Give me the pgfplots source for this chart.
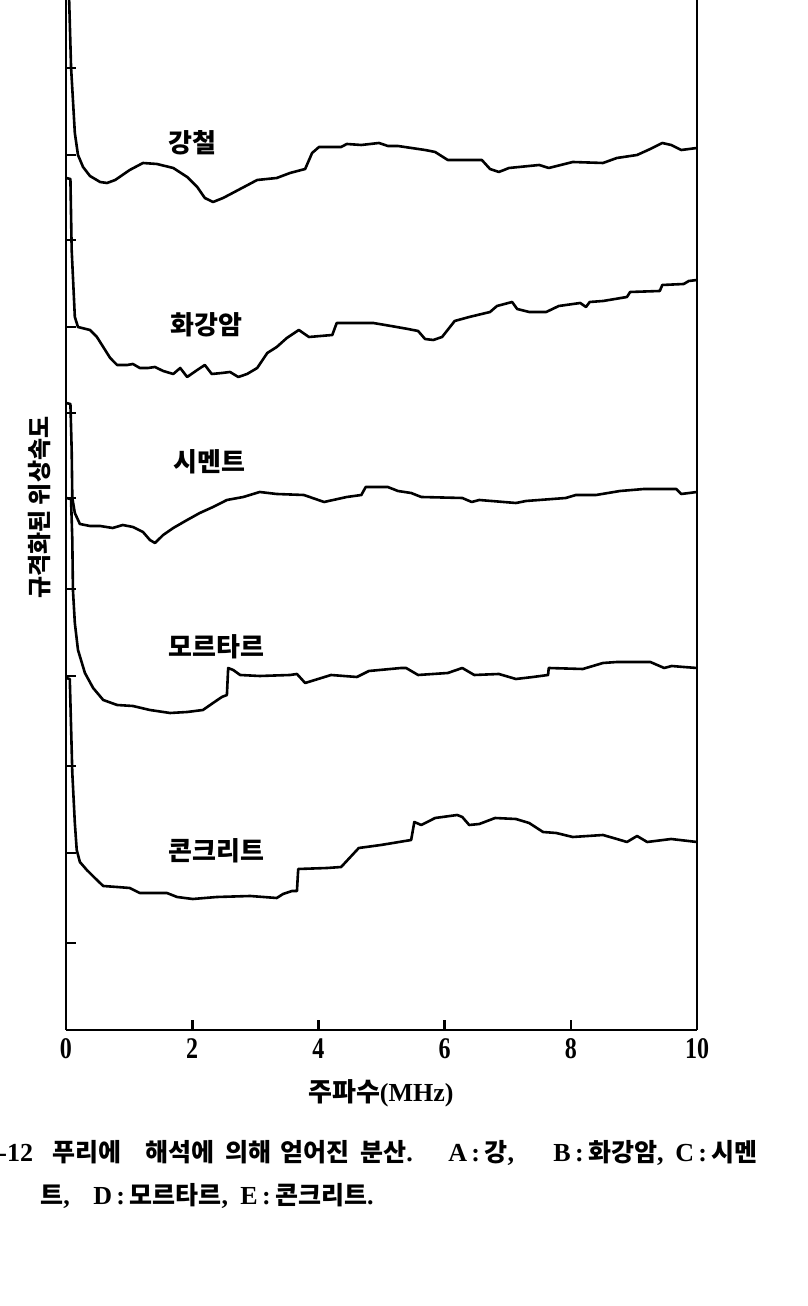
\documentclass[border=0pt]{standalone}
\usepackage{pgfplots}
\pgfplotsset{compat=1.18}
\usepackage{fontspec}
\setmainfont{Liberation Serif}
\newfontfamily\kr{Noto Sans CJK KR}
\begin{document}
\begin{tikzpicture}
\useasboundingbox (0,0) rectangle (404pt,653pt);
\clip (0,0) rectangle (404pt,653pt);
\begin{axis}[
  at={(33pt,138pt)}, anchor=south west, scale only axis,
  width=315.5pt, height=515pt,
  xmin=0, xmax=10, ymin=0, ymax=1030,
  axis x line*=bottom, axis y line*=box,
  axis line style={line width=1.4pt},
  xtick={0,2,4,6,8,10},
  xticklabels={\scalebox{0.8}[1]{0},\scalebox{0.8}[1]{2},\scalebox{0.8}[1]{4},\scalebox{0.8}[1]{6},\scalebox{0.8}[1]{8},\scalebox{0.8}[1]{10}},
  xticklabel style={font=\fontsize{15}{15}\selectfont\bfseries, inner sep=0pt, anchor=center, yshift=-9.5pt},
  ytick={87,177,264,354,441,532,617,703,790,875,962},
  yticklabels={},
  ytick pos=left, xtick pos=bottom,
  tick align=inside,
  major tick length=5pt,
  tick style={line width=1.3pt, black},
  xlabel={{\kr 주파수}(MHz)},
  xlabel style={at={(axis description cs:0.499,-0.061)}, anchor=center, font=\fontsize{13}{13}\selectfont\bfseries},
  ylabel={\kr 규격화된 위상속도},
  ylabel style={at={(axis description cs:-0.0412,0.507)}, anchor=center, font=\fontsize{12}{12}\selectfont\bfseries},
  cycle list={{black}},
  every axis plot/.append style={black, line width=1.3pt, line join=round, mark=none},
  clip=true,
]
% steel
\addplot coordinates {
(0.02,1150)(0.05,1030)(0.08,963)(0.14,897)(0.19,875)(0.27,863)(0.38,854)(0.54,848)(0.65,847)(0.78,850)
(1.01,860)(1.22,867)(1.44,866)(1.70,862)(1.92,853)(2.08,843)(2.20,832)(2.33,828)(2.49,832)(2.76,841)
(3.03,850)(3.34,852)(3.55,857)(3.79,861)(3.90,877)(4.01,883)(4.36,883)(4.45,886)(4.68,885)(4.96,887)
(5.10,884)(5.26,884)(5.69,880)(5.85,878)(6.05,870)(6.59,870)(6.72,861)(6.86,858)(7.02,862)(7.50,865)
(7.65,862)(8.03,868)(8.51,867)(8.73,872)(9.05,875)(9.26,881)(9.45,887)(9.59,885)(9.75,880)(10.0,882)
};
% granite
\addplot coordinates {
(0.0,852)(0.07,851)(0.09,780)(0.14,713)(0.19,703)(0.38,700)(0.49,693)(0.59,683)(0.70,672)(0.81,665)
(0.97,665)(1.06,666)(1.17,662)(1.30,662)(1.41,663)(1.54,659)(1.70,656)(1.81,662)(1.92,653)(2.08,660)
(2.20,665)(2.31,656)(2.47,657)(2.60,658)(2.73,653)(2.87,656)(3.03,662)(3.19,677)(3.34,683)(3.50,692)
(3.69,700)(3.85,693)(4.22,695)(4.29,707)(4.87,707)(5.15,704)(5.42,701)(5.58,699)(5.69,691)(5.82,690)
(5.96,693)(6.16,709)(6.39,713)(6.72,718)(6.83,724)(7.07,728)(7.15,721)(7.34,718)(7.61,718)(7.81,724)
(8.15,727)(8.24,723)(8.30,728)(8.51,729)(8.89,733)(8.94,738)(9.41,739)(9.45,745)(9.79,746)(9.87,749)(10.0,750)
};
% cement
\addplot coordinates {
(0.0,627)(0.07,626)(0.09,580)(0.10,532)(0.14,517)(0.22,506)(0.38,504)(0.54,504)(0.74,502)(0.90,505)
(1.06,503)(1.22,498)(1.33,490)(1.41,487)(1.54,495)(1.70,502)(1.92,510)(2.12,517)(2.33,523)(2.55,530)
(2.81,533)(3.07,538)(3.34,536)(3.77,535)(4.09,528)(4.45,533)(4.68,535)(4.75,543)(5.10,543)(5.26,539)
(5.47,537)(5.63,533)(6.28,532)(6.43,528)(6.55,530)(7.13,527)(7.29,529)(7.92,532)(8.08,535)(8.40,535)
(8.78,539)(9.16,541)(9.67,541)(9.75,536)(10.0,538)
};
% mortar
\addplot coordinates {
(0.0,532)(0.08,531)(0.10,490)(0.11,440)(0.14,407)(0.19,380)(0.30,357)(0.43,342)(0.59,330)(0.81,325)
(1.06,324)(1.33,320)(1.65,317)(1.92,318)(2.17,320)(2.33,327)(2.47,333)(2.55,335)(2.57,362)(2.65,360)
(2.76,355)(3.07,354)(3.55,355)(3.66,356)(3.79,347)(4.20,355)(4.61,353)(4.80,359)(5.31,362)(5.39,362)
(5.58,355)(6.05,357)(6.28,362)(6.47,355)(6.86,356)(7.13,351)(7.40,353)(7.64,355)(7.65,362)(8.19,361)
(8.51,367)(8.73,368)(9.26,368)(9.48,362)(9.60,364)(9.79,363)(10.0,362)
};
% concrete
\addplot coordinates {
(0.0,352)(0.06,351)(0.10,257)(0.14,207)(0.17,180)(0.22,168)(0.33,160)(0.49,150)(0.59,144)(0.81,143)
(1.01,142)(1.17,137)(1.60,137)(1.76,133)(2.01,131)(2.39,133)(2.92,134)(3.34,132)(3.44,136)(3.58,139)
(3.66,139)(3.68,161)(4.14,162)(4.36,163)(4.64,182)(4.99,185)(5.47,190)(5.52,208)(5.63,205)(5.85,212)
(6.20,215)(6.28,213)(6.39,205)(6.55,206)(6.80,212)(7.13,211)(7.34,207)(7.56,198)(7.77,197)(8.03,193)
(8.51,195)(8.73,191)(8.89,188)(9.05,194)(9.21,188)(9.59,191)(10.0,188)
};
\begin{scope}[every node/.style={font=\kr\fontsize{13}{13}\selectfont\bfseries, anchor=center, inner sep=0pt}]
\node at (axis cs:2.01,887) {강철};
\node at (axis cs:2.22,705) {화강암};
\node at (axis cs:2.27,568) {시멘트};
\node at (axis cs:2.38,383) {모르타르};
\node at (axis cs:2.38,179) {콘크리트};
\end{scope}
\end{axis}
\begin{scope}[every node/.style={font=\fontsize{13}{13}\selectfont\bfseries, anchor=base west, inner sep=0pt}]
\node at (-1pt,72pt) {-12};
\node at (26pt,72pt) {\kr\fontsize{12.5}{12.5}\selectfont 푸리에};
\node at (72.5pt,72pt) {\kr\fontsize{12.5}{12.5}\selectfont 해석에};
\node at (112.5pt,72pt) {\kr\fontsize{12.5}{12.5}\selectfont 의해};
\node at (140pt,72pt) {\kr\fontsize{12.5}{12.5}\selectfont 얻어진};
\node at (180pt,72pt) {{\kr\fontsize{12.5}{12.5}\selectfont 분산}.};
\node at (224pt,72pt) {A\,:\,{\kr\fontsize{12.5}{12.5}\selectfont 강},};
\node at (276.5pt,72pt) {B\,:\,{\kr\fontsize{12.5}{12.5}\selectfont 화강암},};
\node at (337.5pt,72pt) {C\,:\,{\kr\fontsize{12.5}{12.5}\selectfont 시멘}};
\node at (20pt,50.5pt) {{\kr\fontsize{12.5}{12.5}\selectfont 트},};
\node at (46.5pt,50.5pt) {D\,:\,{\kr\fontsize{12.5}{12.5}\selectfont 모르타르},};
\node at (120pt,50.5pt) {E\,:\,{\kr\fontsize{12.5}{12.5}\selectfont 콘크리트}.};
\end{scope}
\end{tikzpicture}
\end{document}
